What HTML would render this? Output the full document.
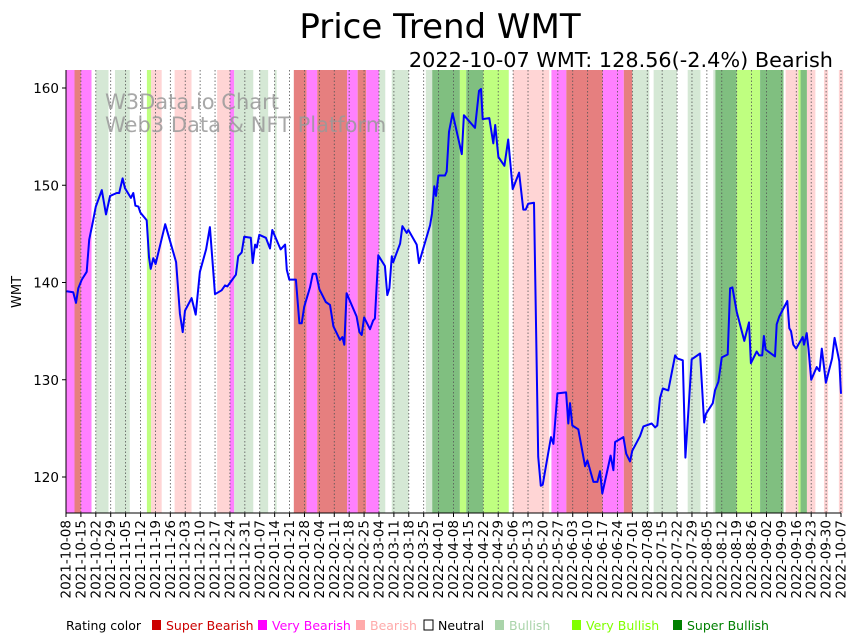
<!DOCTYPE html>
<html><head><meta charset="utf-8"><style>
body{margin:0;background:#fff;width:857px;height:641px;overflow:hidden;font-family:"DejaVu Sans","Liberation Sans",sans-serif}
svg{display:block}
</style></head><body>
<svg id="chart" width="857" height="641" xmlns="http://www.w3.org/2000/svg">
<text x="440" y="38" font-size="34" text-anchor="middle">Price Trend WMT</text>
<text x="833" y="67" font-size="20.8" text-anchor="end">2022-10-07 WMT: 128.56(-2.4%) Bearish</text>
<g id="bands"></g>
<g id="grid"></g>
<text x="105" y="109" font-size="21" fill="#999" fill-opacity="0.85">W3Data.io Chart</text>
<text x="105" y="132" font-size="21" fill="#999" fill-opacity="0.85">Web3 Data &amp; NFT Platform</text>
<path id="line" fill="none" stroke="#0000ff" stroke-width="2" stroke-linejoin="round"/>
<g id="axes"></g>
<text transform="translate(21,292) rotate(-90)" font-size="13" text-anchor="middle">WMT</text>
<g id="legend" font-size="12.5"></g>
</svg>
<script>
const ratingNames=["Super Bearish","Very Bearish","Bearish","Neutral","Bullish","Very Bullish","Super Bullish"];
const bandStarts=[0,4,7,12,14,20,23,30,38,40,45,51,59,71,77,79,88,91,95,98,99,107,113,118,132,137,141,147,150,153,161,169,172,185,188,196,208,210,227,228,235,252,262,266,274,276,287,292,298,304,305,315,326,337,338,344,345,348,352,356,358,363];
const bandRatings=[1,0,1,3,4,3,4,3,5,2,3,2,3,2,1,4,3,4,3,4,3,0,1,0,1,0,1,4,3,4,3,4,6,5,6,5,3,2,3,1,0,1,0,4,3,4,3,4,3,4,6,5,6,3,2,5,6,2,3,2,3,2];
const priceDays=[0.3,3.4,4.7,5.8,7.4,9.7,10.9,12.5,14.0,16.8,18.8,20.7,23.8,25.0,26.6,27.7,30.5,31.6,32.6,34.0,34.9,37.9,39.0,39.8,41.0,42.1,46.6,51.7,53.5,54.8,55.9,59.0,60.9,62.9,65.8,67.6,70.0,73.1,74.7,75.8,79.8,80.9,82.5,83.7,86.8,87.7,88.8,89.6,90.8,93.9,95.8,96.9,100.8,102.9,103.7,104.9,108.0,109.6,110.7,111.9,114.6,115.9,117.4,119.0,122.0,124.0,125.6,128.7,129.8,130.7,131.8,136.5,137.8,138.9,140.0,142.8,144.3,145.1,146.7,149.8,150.9,151.9,153.0,153.7,156.9,158.0,160.0,160.8,164.7,165.8,171.0,171.9,173.0,173.8,174.9,178.0,178.8,179.9,181.6,185.9,186.9,192.1,194.0,194.9,195.7,198.8,200.7,201.6,203.1,205.9,207.7,209.8,212.8,214.8,215.9,217.1,219.8,221.8,223.0,223.9,227.8,228.9,230.8,234.9,235.9,236.7,237.8,240.6,243.8,244.9,247.7,249.6,250.8,251.9,255.8,257.1,257.9,261.8,263.1,264.9,266.0,269.6,271.2,275.1,276.7,277.7,279.0,280.3,282.9,284.5,286.1,287.1,289.7,290.9,293.9,297.8,299.7,300.6,303.8,304.8,306.4,308.0,310.8,311.9,313.0,315.0,318.6,320.8,321.7,324.4,325.6,327.0,327.8,328.6,333.0,333.8,335.0,338.8,339.7,340.5,341.6,342.9,346.0,346.6,347.9,348.7,350.0,352.6,353.9,355.0,356.9,359.8,361.0,363.2,364.0];
const priceValues=[139.1,139.0,137.9,139.4,140.3,141.1,144.4,146.1,147.8,149.5,147.0,148.9,149.2,149.2,150.7,149.7,148.7,149.2,147.9,147.8,147.2,146.4,142.6,141.4,142.5,141.9,146.0,142.1,136.8,134.9,137.1,138.4,136.7,141.1,143.4,145.7,138.8,139.2,139.7,139.6,140.8,142.7,143.1,144.7,144.6,142.0,143.9,143.6,144.9,144.6,143.5,145.4,143.4,143.9,141.3,140.3,140.3,135.8,135.8,137.5,139.5,140.9,140.9,139.3,138.0,137.7,135.5,134.1,134.4,133.6,138.9,136.5,134.9,134.6,136.4,135.2,136.1,136.3,142.8,141.7,138.7,139.4,142.7,142.1,144.0,145.8,145.1,145.4,143.9,142.0,145.9,147.1,149.9,148.9,151.0,151.0,151.4,155.5,157.4,153.2,157.2,155.9,159.7,159.9,156.8,156.9,154.3,156.2,152.9,152.0,154.7,149.6,151.3,147.5,147.5,148.1,148.2,122.1,119.1,119.2,124.1,123.4,128.6,128.7,125.5,127.6,125.3,124.9,121.1,121.7,119.5,119.5,120.6,118.3,122.2,120.7,123.6,124.1,122.4,121.6,122.7,124.2,125.2,125.5,125.1,125.3,128.1,129.1,128.9,130.7,132.5,132.2,132.0,122.0,132.1,132.7,125.6,126.5,127.6,128.9,129.8,132.3,132.6,139.4,139.5,137.0,134.0,135.9,131.7,132.9,132.5,132.5,134.5,133.1,132.4,135.7,136.5,138.1,135.3,135.0,133.6,133.2,134.4,133.6,134.8,133.3,130.0,131.3,130.9,133.2,129.7,132.2,134.3,131.9,128.56];
const yTicks=[120,130,140,150,160];
const startDate="2021-10-08";
const totalDays=364;

const NS="http://www.w3.org/2000/svg";
const L=66,R=841,T=70,B=513;
const xS=d=>L+d*(R-L)/totalDays;
const yS=v=>477-(v-120)*9.725;
const bandFill=["#e67f7f","#ff80ff","#ffd5d5","#ffffff","#d5e8d5","#bfff80","#80bf80"];
const legFill=["#cc0000","#ff00ff","#ffaaaa","#ffffff","#aad4aa","#80ff00","#008000"];
const legText=["#cc0000","#ff00ff","#ffaaaa","#000000","#aad4aa","#80ff00","#008000"];
function mk(tag,attrs,parent){const e=document.createElementNS(NS,tag);for(const k in attrs)e.setAttribute(k,attrs[k]);parent.appendChild(e);return e;}

const bands=document.getElementById('bands');
for(let i=0;i<bandStarts.length;i++){
  const s=bandStarts[i],e=i+1<bandStarts.length?bandStarts[i+1]:totalDays+1;
  const r=mk('rect',{x:xS(s),y:T,width:Math.max(0,xS(Math.min(e,totalDays+1))-xS(s)),height:B-T,fill:bandFill[bandRatings[i]]},bands);
  
  
}
const grid=document.getElementById('grid');
const axes=document.getElementById('axes');
const d0=new Date(startDate+"T00:00:00Z");
for(let d=0;d<=totalDays;d+=7){
  const x=xS(d);
  const gl=mk('line',{x1:x,x2:x,y1:T,y2:B,stroke:'#555','stroke-width':0.8,'stroke-dasharray':'1.5,2'},grid);
  
  
  mk('line',{x1:x,x2:x,y1:B,y2:B+4,stroke:'#000'},axes);
  const dt=new Date(d0.getTime()+d*86400000).toISOString().slice(0,10);
  const t=mk('text',{transform:`translate(${x+4.5},${B+7}) rotate(-90)`,'font-size':13.5,'text-anchor':'end'},axes);
  t.textContent=dt;
  
  
}
for(const v of yTicks){
  const y=yS(v);
  mk('line',{x1:L-4,x2:L,y1:y,y2:y,stroke:'#000'},axes);
  const t=mk('text',{x:L-7,y:y+5,'font-size':13.5,'text-anchor':'end'},axes);
  t.textContent=v;
  
  
}
mk('line',{x1:L,x2:L,y1:T,y2:B,stroke:'#000'},axes);
mk('line',{x1:L,x2:R,y1:B,y2:B,stroke:'#000'},axes);
document.getElementById('line').setAttribute('d',priceDays.map((d,i)=>(i?'L':'M')+xS(d).toFixed(1)+','+yS(priceValues[i]).toFixed(1)).join(''));

const leg=document.getElementById('legend');
const lt=mk('text',{x:66,y:630},leg);lt.textContent='Rating color';


const legX=[152,258,356,424,495,572,673];
for(let i=0;i<7;i++){
  const sq=mk('rect',{x:legX[i],y:620,width:9,height:10,fill:legFill[i],stroke:i==3?'#000':'none','stroke-width':1},leg);
  
  
  const t=mk('text',{x:legX[i]+14,y:630,fill:legText[i]},leg);t.textContent=ratingNames[i];
  
  
}
</script>
</body></html>
